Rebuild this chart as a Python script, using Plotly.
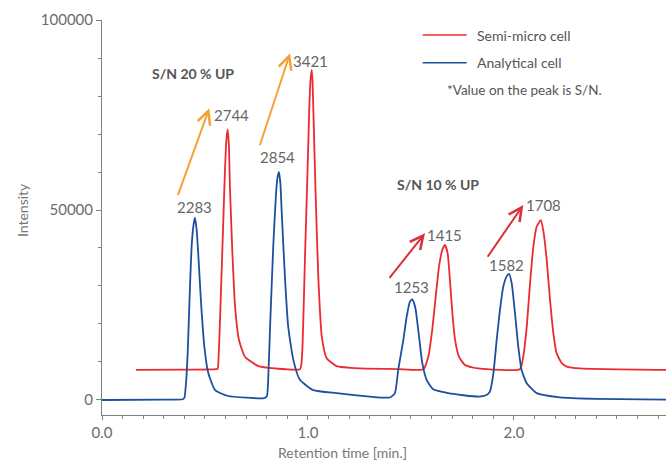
import plotly.graph_objects as go

# ---------------- data ----------------
series_names = ["Semi-micro cell", "Analytical cell"]

blue_x = [0.000, 0.300, 0.392, 0.400, 0.408, 0.416, 0.427, 0.435, 0.443, 0.451, 0.459, 0.467,
          0.481, 0.497, 0.516, 0.549, 0.612, 0.700, 0.783, 0.800, 0.808, 0.816, 0.832, 0.845,
          0.852, 0.859, 0.866, 0.872, 0.888, 0.904, 0.929, 0.961, 1.026, 1.139, 1.301, 1.398,
          1.422, 1.438, 1.463, 1.479, 1.495, 1.506, 1.515, 1.523, 1.539, 1.555, 1.576, 1.608,
          1.681, 1.827, 1.867, 1.883, 1.900, 1.916, 1.932, 1.948, 1.965, 1.976, 1.989, 2.005,
          2.021, 2.037, 2.062, 2.110, 2.223, 2.400, 2.738]
blue_y = [0, 100, 200, 600, 4500, 12400, 29700, 40300, 45500, 48000, 45000, 38700,
          25500, 14000, 7100, 2600, 1050, 600, 450, 900, 7000, 19300, 41200, 54400,
          58500, 60000, 57000, 50000, 32400, 19300, 10500, 5300, 2600, 1800, 870, 650,
          1800, 7900, 15800, 21900, 25900, 26500, 25500, 23700, 16700, 9700, 5300, 2800,
          1800, 870, 1300, 2200, 7000, 15800, 23700, 29800, 32600, 33200, 30700, 22800,
          14000, 7900, 4400, 1800, 700, 300, 100]

red_x = [0.165, 0.400, 0.555, 0.562, 0.567, 0.573, 0.589, 0.597, 0.604, 0.610, 0.616, 0.621,
         0.633, 0.646, 0.665, 0.694, 0.759, 0.840, 0.961, 0.968, 0.974, 0.985, 0.997, 1.006,
         1.012, 1.018, 1.022, 1.026, 1.037, 1.050, 1.067, 1.091, 1.139, 1.252, 1.400, 1.560,
         1.584, 1.603, 1.620, 1.636, 1.652, 1.665, 1.678, 1.689, 1.701, 1.714, 1.733, 1.762,
         1.827, 2.029, 2.045, 2.062, 2.078, 2.094, 2.110, 2.130, 2.142, 2.159, 2.175, 2.191,
         2.207, 2.232, 2.256, 2.320, 2.738]
red_y = [7900, 8000, 8100, 8300, 12500, 21100, 47400, 60500, 68500, 71200, 67000, 56100,
         38700, 24600, 15800, 11400, 8900, 8300, 8100, 9500, 14900, 36800, 58800, 76300,
         84000, 86900, 84000, 76300, 54400, 32400, 16700, 11000, 8900, 8300, 8200, 8100,
         11400, 18400, 27200, 35100, 39500, 40800, 38600, 31600, 22800, 15800, 11400, 9200,
         8300, 8100, 11400, 19300, 30700, 40300, 45600, 47300, 44700, 36800, 26300, 17600,
         12300, 9700, 8800, 8300, 7900]

# S/N values written on the peaks and where their labels sit (data coords)
sn_labels = ["2283", "2744", "2854", "3421", "1253", "1415", "1582", "1708"]
sn_label_x = [0.451, 0.631, 0.852, 1.010, 1.503, 1.664, 1.966, 2.144]
sn_label_y = [50880, 75000, 63950, 89300, 29820, 43500, 35450, 51300]

# improvement arrows: tail -> head (data coords)
arrow_tail_x = [0.366, 0.764, 1.390, 1.867]
arrow_tail_y = [53500, 66660, 31760, 37290]
arrow_head_x = [0.521, 0.913, 1.568, 2.045]
arrow_head_y = [76760, 91240, 43870, 51320]
arrow_colors = ["#f7a134", "#f7a134", "#d8313b", "#d8313b"]

headline_texts = ["S/N 20 % UP", "S/N 10 % UP"]
headline_x = [0.442, 1.631]
headline_y = [85970, 56580]

note_text = "*Value on the peak is S/N."
x_title = "Retention time [min.]"
y_title = "Intensity"

RED = "#ec2a32"
BLUE = "#1d4f9f"
FONT = "Lato"

fig = go.Figure()
fig.add_trace(go.Scatter(x=red_x, y=red_y, mode="lines", name=series_names[0],
                         line=dict(color=RED, width=1.8, shape="spline", smoothing=0.5),
                         showlegend=False))
fig.add_trace(go.Scatter(x=blue_x, y=blue_y, mode="lines", name=series_names[1],
                         line=dict(color=BLUE, width=1.8, shape="spline", smoothing=0.5),
                         showlegend=False))

annotations = []
for t, x, y in zip(sn_labels, sn_label_x, sn_label_y):
    annotations.append(dict(x=x, y=y, xref="x", yref="y", text=t, showarrow=False,
                            font=dict(family=FONT, size=15, color="#666666"),
                            xanchor="center", yanchor="middle"))
for tx, ty, hx, hy, c in zip(arrow_tail_x, arrow_tail_y, arrow_head_x, arrow_head_y, arrow_colors):
    annotations.append(dict(x=hx, y=hy, xref="x", yref="y", ax=tx, ay=ty, axref="x", ayref="y",
                            text="", showarrow=True, arrowhead=5, arrowsize=1.3,
                            arrowwidth=2, arrowcolor=c, standoff=0, startstandoff=0))
for t, x, y in zip(headline_texts, headline_x, headline_y):
    annotations.append(dict(x=x, y=y, xref="x", yref="y", text="<b>" + t + "</b>",
                            showarrow=False, font=dict(family=FONT, size=14, color="#555555"),
                            xanchor="center", yanchor="middle"))

# legend (drawn manually to match the reference layout)
leg_y = [0.962, 0.892]
leg_col = [RED, BLUE]
shapes = []
for name, yy, c in zip(series_names, leg_y, leg_col):
    shapes.append(dict(type="line", xref="paper", yref="paper", x0=0.5686, x1=0.6466,
                       y0=yy, y1=yy, line=dict(color=c, width=1.5)))
    annotations.append(dict(x=0.6613, y=yy, xref="paper", yref="paper", text=name,
                            showarrow=False, xanchor="left", yanchor="middle",
                            font=dict(family=FONT, size=14, color="#555555")))
annotations.append(dict(x=0.608, y=0.823, xref="paper", yref="paper", text=note_text,
                        showarrow=False, xanchor="left", yanchor="middle",
                        font=dict(family=FONT, size=13.5, color="#555555")))

# axis titles (placed as in the reference, not centred on the plot area)
annotations.append(dict(x=0.427, y=-0.0954, xref="paper", yref="paper", text=x_title,
                        showarrow=False, xanchor="center", yanchor="middle",
                        font=dict(family=FONT, size=14, color="#777777")))
annotations.append(dict(x=-0.140, y=0.519, xref="paper", yref="paper", text=y_title,
                        showarrow=False, xanchor="center", yanchor="middle", textangle=-90,
                        font=dict(family=FONT, size=14, color="#777777")))

axis_col = "#808080"
fig.update_layout(
    width=666, height=463, autosize=False,
    margin=dict(l=102, r=0, t=20, b=48),
    paper_bgcolor="white", plot_bgcolor="white",
    annotations=annotations, shapes=shapes,
    showlegend=False,
    xaxis=dict(range=[0, 2.738], showgrid=False, zeroline=False, showline=True,
               linecolor=axis_col, linewidth=1, ticks="outside", ticklen=4, tickcolor=axis_col,
               tick0=0, dtick=1.0, tickformat=".1f",
               minor=dict(dtick=0.1, ticks="outside", ticklen=3, tickcolor=axis_col),
               tickfont=dict(family=FONT, size=15, color="#6b6b6b")),
    yaxis=dict(range=[-3950, 100000], showgrid=False, zeroline=False, showline=True,
               linecolor=axis_col, linewidth=1, ticks="outside", ticklen=5, tickcolor=axis_col,
               tickvals=[0, 50000, 100000], tickformat="d",
               minor=dict(dtick=10000, tick0=0, ticks="outside", ticklen=3, tickcolor=axis_col),
               tickfont=dict(family=FONT, size=15, color="#6b6b6b")),
)

fig.write_html("out.html")
